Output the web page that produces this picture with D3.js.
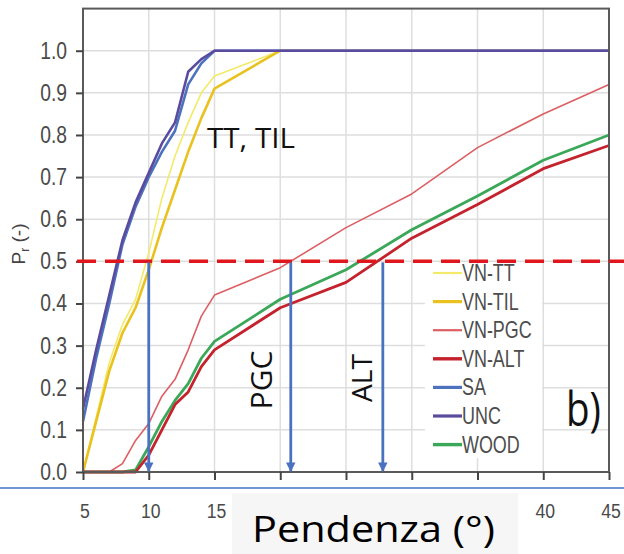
<!DOCTYPE html>
<html><head><meta charset="utf-8">
<script src="https://cdn.jsdelivr.net/npm/d3@7"></script>
<style>html,body{margin:0;padding:0;background:#fff;}svg{display:block;}</style>
</head><body>
<script>
const slopes = [5,6,7,8,9,10,11,12,13,14,15,20,25,30,35,40,45];
const vnTT  = [0,0.13,0.26,0.35,0.41,0.52,0.65,0.75,0.83,0.90,0.94,1,1,1,1,1,1];
const vnTIL = [0,0.12,0.24,0.33,0.39,0.48,0.58,0.67,0.76,0.84,0.91,1,1,1,1,1,1];
const vnPGC = [0,0,0,0.02,0.075,0.115,0.18,0.22,0.29,0.37,0.42,0.485,0.58,0.66,0.77,0.85,0.92];
const vnALT = [0,0,0,0,0,0.04,0.10,0.16,0.19,0.25,0.29,0.39,0.45,0.555,0.635,0.72,0.775];
const sa    = [0.12,0.27,0.40,0.54,0.63,0.70,0.76,0.81,0.92,0.97,1,1,1,1,1,1,1];
const unc   = [0.15,0.29,0.42,0.55,0.64,0.71,0.78,0.83,0.95,0.98,1,1,1,1,1,1,1];
const wood  = [0,0,0,0,0.005,0.06,0.12,0.17,0.21,0.27,0.31,0.41,0.48,0.575,0.655,0.74,0.80];
const xTicks = [5,10,15,20,25,30,35,40,45];
const xTickLabelsShown = [5,10,15,40,45]; // 20–35 are hidden behind the title box
const yTicks = [0,0.1,0.2,0.3,0.4,0.5,0.6,0.7,0.8,0.9,1.0];
const threshold = 0.5;
const arrowX = [10, 20.8, 27.8];
const seriesNames = ["VN-TT","VN-TIL","VN-PGC","VN-ALT","SA","UNC","WOOD"];

const series = [
  {v:vnTT, c:"#f3ea6a", w:1.6},
  {v:vnTIL, c:"#e9c21f", w:2.6},
  {v:vnPGC, c:"#dc5f63", w:1.6},
  {v:vnALT, c:"#c4232d", w:2.8},
  {v:sa, c:"#4d72bd", w:2.6},
  {v:unc, c:"#5a4b9f", w:2.6},
  {v:wood, c:"#3aa858", w:2.8}
];

const W=624,H=554;
const svg=d3.select("body").append("svg").attr("width",W).attr("height",H);
const x=d3.scaleLinear().domain([5,45]).range([83,609]);
const y=d3.scaleLinear().domain([0,1.1]).range([472,8.6]);

// grid
const g=svg.append("g");
g.selectAll(".vg").data(xTicks).join("line").attr("x1",d=>x(d)).attr("x2",d=>x(d)).attr("y1",y(1.1)).attr("y2",y(0)).attr("stroke","#dedede").attr("stroke-width",1.5);
g.selectAll(".hg").data(yTicks).join("line").attr("x1",x(5)).attr("x2",x(45)).attr("y1",d=>y(d)).attr("y2",d=>y(d)).attr("stroke","#dedede").attr("stroke-width",1.5);

// legend background
svg.append("rect").attr("x",425).attr("y",266).attr("width",117).attr("height",192).attr("fill","#fff");

// curves
const line=d3.line().x((d,i)=>x(slopes[i])).y(d=>y(d));
const order=[0,1,2,6,3,4,5];
order.forEach(k=>{const s=series[k];
  svg.append("path").attr("d",line(s.v)).attr("fill","none").attr("stroke",s.c).attr("stroke-width",s.w).attr("stroke-linejoin","round");
});

// frame & axes
svg.append("rect").attr("x",x(5)).attr("y",y(1.1)).attr("width",x(45)-x(5)).attr("height",y(0)-y(1.1)).attr("fill","none").attr("stroke","#5a5a5a").attr("stroke-width",2);
const xa=svg.append("g").attr("transform",`translate(0,${y(0)})`).call(d3.axisBottom(x).tickValues(xTicks).tickSize(8).tickFormat(""));
xa.select(".domain").remove(); xa.selectAll("line").attr("stroke","#444").attr("stroke-width",2);
const ya=svg.append("g").attr("transform",`translate(${x(5)},0)`).call(d3.axisLeft(y).tickValues(yTicks).tickSize(7).tickFormat(""));
ya.select(".domain").remove(); ya.selectAll("line").attr("stroke","#444").attr("stroke-width",2);

function txt(t,px,py,size,opts={}){
  const e=svg.append("text").attr("transform",`translate(${px},${py})`+(opts.rot?` rotate(${opts.rot})`:"")+(opts.sx?` scale(${opts.sx},1)`:""))
   .attr("font-family",opts.font||"Liberation Sans, Arial, sans-serif").attr("font-size",size)
   .attr("fill",opts.fill||"#4a4a4a").attr("text-anchor",opts.anchor||"start").text(t);
  if(opts.len) e.attr("textLength",opts.len).attr("lengthAdjust","spacingAndGlyphs");
  return e;
}
yTicks.forEach(d=>txt(d3.format(".1f")(d),67,y(d)+8,23,{anchor:"end",sx:0.84}));
xTickLabelsShown.forEach(d=>txt(d3.format("d")(d),x(d)+2,518,21,{anchor:"middle",sx:0.84}));

// y label
const yl=svg.append("text").attr("transform","translate(25,244) rotate(-90)").attr("font-family","Liberation Sans, Arial, sans-serif").attr("font-size",19).attr("fill","#444").attr("text-anchor","middle");
yl.append("tspan").text("P");
yl.append("tspan").attr("font-size",12).attr("dy",4).text("r");
yl.append("tspan").attr("dy",-4).text(" (-)");

// threshold dashed
svg.append("line").attr("x1",77).attr("x2",624).attr("y1",y(threshold)).attr("y2",y(threshold)).attr("stroke","#e0161d").attr("stroke-width",3.5).attr("stroke-dasharray","19 9");

// arrows
const defs=svg.append("defs");
defs.append("marker").attr("id","ah").attr("viewBox","0 0 10 10").attr("refX",9).attr("refY",5).attr("markerWidth",3.4).attr("markerHeight",3.4).attr("orient","auto")
 .append("path").attr("d","M0,0 L10,5 L0,10 z").attr("fill","#4a72c0");
arrowX.forEach(a=>{
  svg.append("line").attr("x1",x(a)).attr("x2",x(a)).attr("y1",y(threshold)+1).attr("y2",y(0)-1).attr("stroke","#4a72c0").attr("stroke-width",2.8).attr("marker-end","url(#ah)");
});

// legend
series.forEach((s,i)=>{
  const ly=273+i*28.6;
  svg.append("line").attr("x1",433).attr("x2",462).attr("y1",ly).attr("y2",ly).attr("stroke",s.c).attr("stroke-width",s.w+0.6);
  txt(seriesNames[i],462,ly+8,23,{sx:0.78,fill:"#4d4d4d"});
});

// annotations
const of="Open Sans, sans-serif";
txt("TT, TIL",207,148,28,{font:of,fill:"#111",len:88});
txt("PGC",272,380,30,{font:of,fill:"#111",rot:-90,anchor:"middle"});
txt("ALT",372,378,28,{font:of,fill:"#111",rot:-90,anchor:"middle"});
txt("b)",566,426,48,{font:of,fill:"#111",len:35});

// slide overlay elements
svg.append("line").attr("x1",0).attr("x2",624).attr("y1",488).attr("y2",488).attr("stroke","#4472c4").attr("stroke-width",1.5);
svg.append("rect").attr("x",232).attr("y",493).attr("width",286).attr("height",61).attr("fill","#f6f6f6");
txt("Pendenza (°)",252,542,37,{font:of,fill:"#000",len:243});
</script>
</body></html>
